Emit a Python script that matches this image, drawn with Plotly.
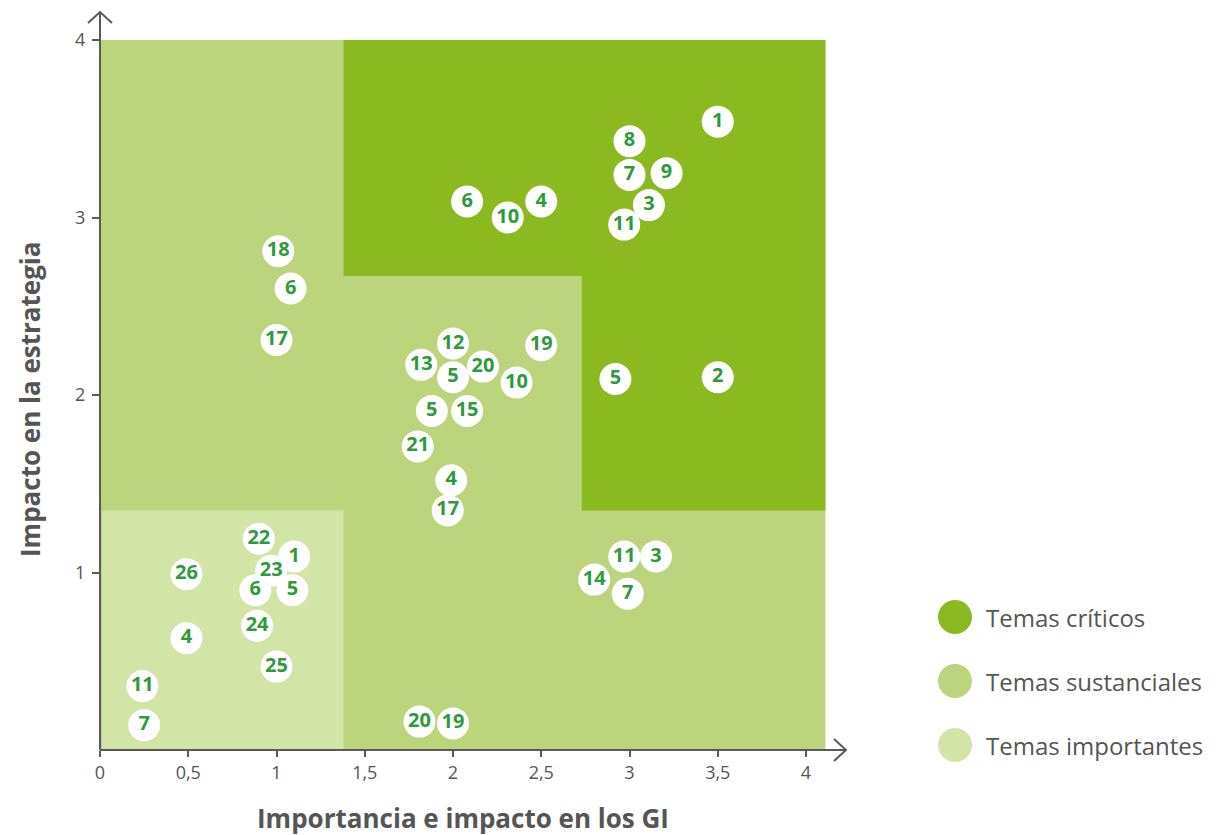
import plotly.graph_objects as go

# Material topics: (importance for stakeholders, impact on strategy, topic number)
topic_x = [3.50, 3.00, 3.00, 3.21, 3.11, 2.97, 2.08, 2.50, 2.31,
           1.01, 1.08, 1.00,
           2.00, 2.50, 1.82, 2.00, 2.17, 2.36, 2.92, 3.50,
           1.88, 2.08, 1.80, 1.99, 1.97,
           0.90, 1.10, 0.97, 0.88, 1.09, 0.49, 0.89, 0.49, 1.00, 0.24, 0.25,
           1.81, 2.00,
           2.97, 3.15, 2.80, 2.99]
topic_y = [3.54, 3.43, 3.24, 3.25, 3.07, 2.96, 3.09, 3.09, 3.00,
           2.81, 2.60, 2.31,
           2.29, 2.28, 2.17, 2.10, 2.16, 2.07, 2.09, 2.10,
           1.91, 1.91, 1.71, 1.52, 1.35,
           1.19, 1.09, 1.01, 0.90, 0.90, 0.99, 0.70, 0.63, 0.47, 0.36, 0.14,
           0.16, 0.15,
           1.09, 1.09, 0.96, 0.88]
topic_id = ["1", "8", "7", "9", "3", "11", "6", "4", "10",
            "18", "6", "17",
            "12", "19", "13", "5", "20", "10", "5", "2",
            "5", "15", "21", "4", "17",
            "22", "1", "23", "6", "5", "26", "24", "4", "25", "11", "7",
            "20", "19",
            "11", "3", "14", "7"]

# Category zones (limits on each axis)
zone_x_max = 4.11
zone_y_max = 4.0
important_x, important_y = 1.38, 1.35
critical_x_split, critical_y_split = 2.73, 2.67

categories = ["Temas críticos", "Temas sustanciales", "Temas importantes"]
cat_colors = ["#8ab920", "#bcd47b", "#d3e4a7"]

x_ticks = [0, 0.5, 1, 1.5, 2, 2.5, 3, 3.5, 4]
x_tick_text = ["0", "0,5", "1", "1,5", "2", "2,5", "3", "3,5", "4"]
y_ticks = [1, 2, 3, 4]
y_tick_text = ["1", "2", "3", "4"]

W, H = 1216, 835
ML, MR, MT, MB = 100, 366, 5, 85
PX_X = 176.5
PX_Y = 177.5
x_range = [0, (W - ML - MR) / PX_X]
y_range = [0, (H - MT - MB) / PX_Y]

AXIS_COLOR = "#5a5a5a"
TEXT_GREY = "#555555"
TEXT_GREEN = "#2f9a3c"
FONT = "Open Sans"


def paper_x(px):
    return (px - ML) / (W - ML - MR)


def paper_y(py):
    return (H - MB - py) / (H - MT - MB)


shapes = []
# sustancial (background zone)
shapes.append(dict(type="rect", xref="x", yref="y", x0=0, x1=zone_x_max, y0=0, y1=zone_y_max,
                   fillcolor=cat_colors[1], line=dict(width=0), layer="below"))
# critical L-shaped zone
crit_path = (f"M {important_x} {critical_y_split} L {critical_x_split} {critical_y_split} "
             f"L {critical_x_split} {important_y} L {zone_x_max} {important_y} "
             f"L {zone_x_max} {zone_y_max} L {important_x} {zone_y_max} Z")
shapes.append(dict(type="path", xref="x", yref="y", path=crit_path,
                   fillcolor=cat_colors[0], line=dict(width=0), layer="below"))
# important zone
shapes.append(dict(type="rect", xref="x", yref="y", x0=0.01, x1=important_x, y0=0, y1=important_y,
                   fillcolor=cat_colors[2], line=dict(width=0), layer="below"))

# axes with arrow heads (paper coordinates so they are not clipped)
x0p, y0p = paper_x(100), paper_y(750)
x_tip_p, y_tip_p = paper_x(846), paper_y(12)
arm_x = 12 / (W - ML - MR)
arm_y = 11 / (H - MT - MB)
axis_line = dict(color=AXIS_COLOR, width=2)
shapes.append(dict(type="line", xref="paper", yref="paper", x0=x0p, y0=y0p, x1=x_tip_p, y1=y0p,
                   line=axis_line))
shapes.append(dict(type="line", xref="paper", yref="paper", x0=x0p, y0=y0p, x1=x0p, y1=y_tip_p,
                   line=axis_line))
shapes.append(dict(type="path", xref="paper", yref="paper",
                   path=(f"M {x_tip_p - arm_x} {y0p + arm_y} L {x_tip_p} {y0p} "
                         f"L {x_tip_p - arm_x} {y0p - arm_y}"),
                   line=axis_line))
shapes.append(dict(type="path", xref="paper", yref="paper",
                   path=(f"M {x0p - arm_x} {y_tip_p - arm_y} L {x0p} {y_tip_p} "
                         f"L {x0p + arm_x} {y_tip_p - arm_y}"),
                   line=axis_line))

annotations = []
legend_cx = 955
legend_cy = [617, 681, 745]
r = 17
for name, col, cy in zip(categories, cat_colors, legend_cy):
    shapes.append(dict(type="circle", xref="paper", yref="paper",
                       x0=paper_x(legend_cx - r), x1=paper_x(legend_cx + r),
                       y0=paper_y(cy + r), y1=paper_y(cy - r),
                       fillcolor=col, line=dict(width=0)))
    annotations.append(dict(xref="paper", yref="paper", x=paper_x(984), y=paper_y(cy),
                            text=name, showarrow=False, xanchor="left", yanchor="middle",
                            font=dict(family=FONT, size=24, color=TEXT_GREY)))

annotations += [
    dict(xref="paper", yref="paper", x=paper_x(463), y=paper_y(818),
         text="<b>Importancia e impacto en los GI</b>", showarrow=False,
         xanchor="center", yanchor="middle",
         font=dict(family=FONT, size=26, color=TEXT_GREY)),
    dict(xref="paper", yref="paper", x=paper_x(30), y=paper_y(400),
         text="<b>Impacto en la estrategia</b>", showarrow=False, textangle=-90,
         xanchor="center", yanchor="middle",
         font=dict(family=FONT, size=26, color=TEXT_GREY)),
]

fig = go.Figure()
fig.add_trace(go.Scatter(
    x=topic_x, y=topic_y, text=topic_id, mode="markers+text",
    textposition="middle center",
    marker=dict(size=32, color="white", line=dict(width=0)),
    textfont=dict(family=FONT, size=20, color=TEXT_GREEN, weight="bold"),
    hoverinfo="skip", showlegend=False, cliponaxis=False,
))

fig.update_layout(
    width=W, height=H,
    margin=dict(l=ML, r=MR, t=MT, b=MB),
    paper_bgcolor="white", plot_bgcolor="white",
    showlegend=False,
    shapes=shapes,
    annotations=annotations,
    xaxis=dict(range=x_range, showgrid=False, zeroline=False, showline=False,
               tickmode="array", tickvals=x_ticks, ticktext=x_tick_text,
               ticks="outside", ticklen=6, tickwidth=1.5, tickcolor=AXIS_COLOR,
               tickfont=dict(family=FONT, size=18, color=TEXT_GREY), fixedrange=True),
    yaxis=dict(range=y_range, showgrid=False, zeroline=False, showline=False,
               tickmode="array", tickvals=y_ticks, ticktext=y_tick_text,
               ticks="outside", ticklen=7, tickwidth=1.5, tickcolor=AXIS_COLOR,
               ticklabelstandoff=3,
               tickfont=dict(family=FONT, size=18, color=TEXT_GREY), fixedrange=True),
)

fig.write_html("out.html")
